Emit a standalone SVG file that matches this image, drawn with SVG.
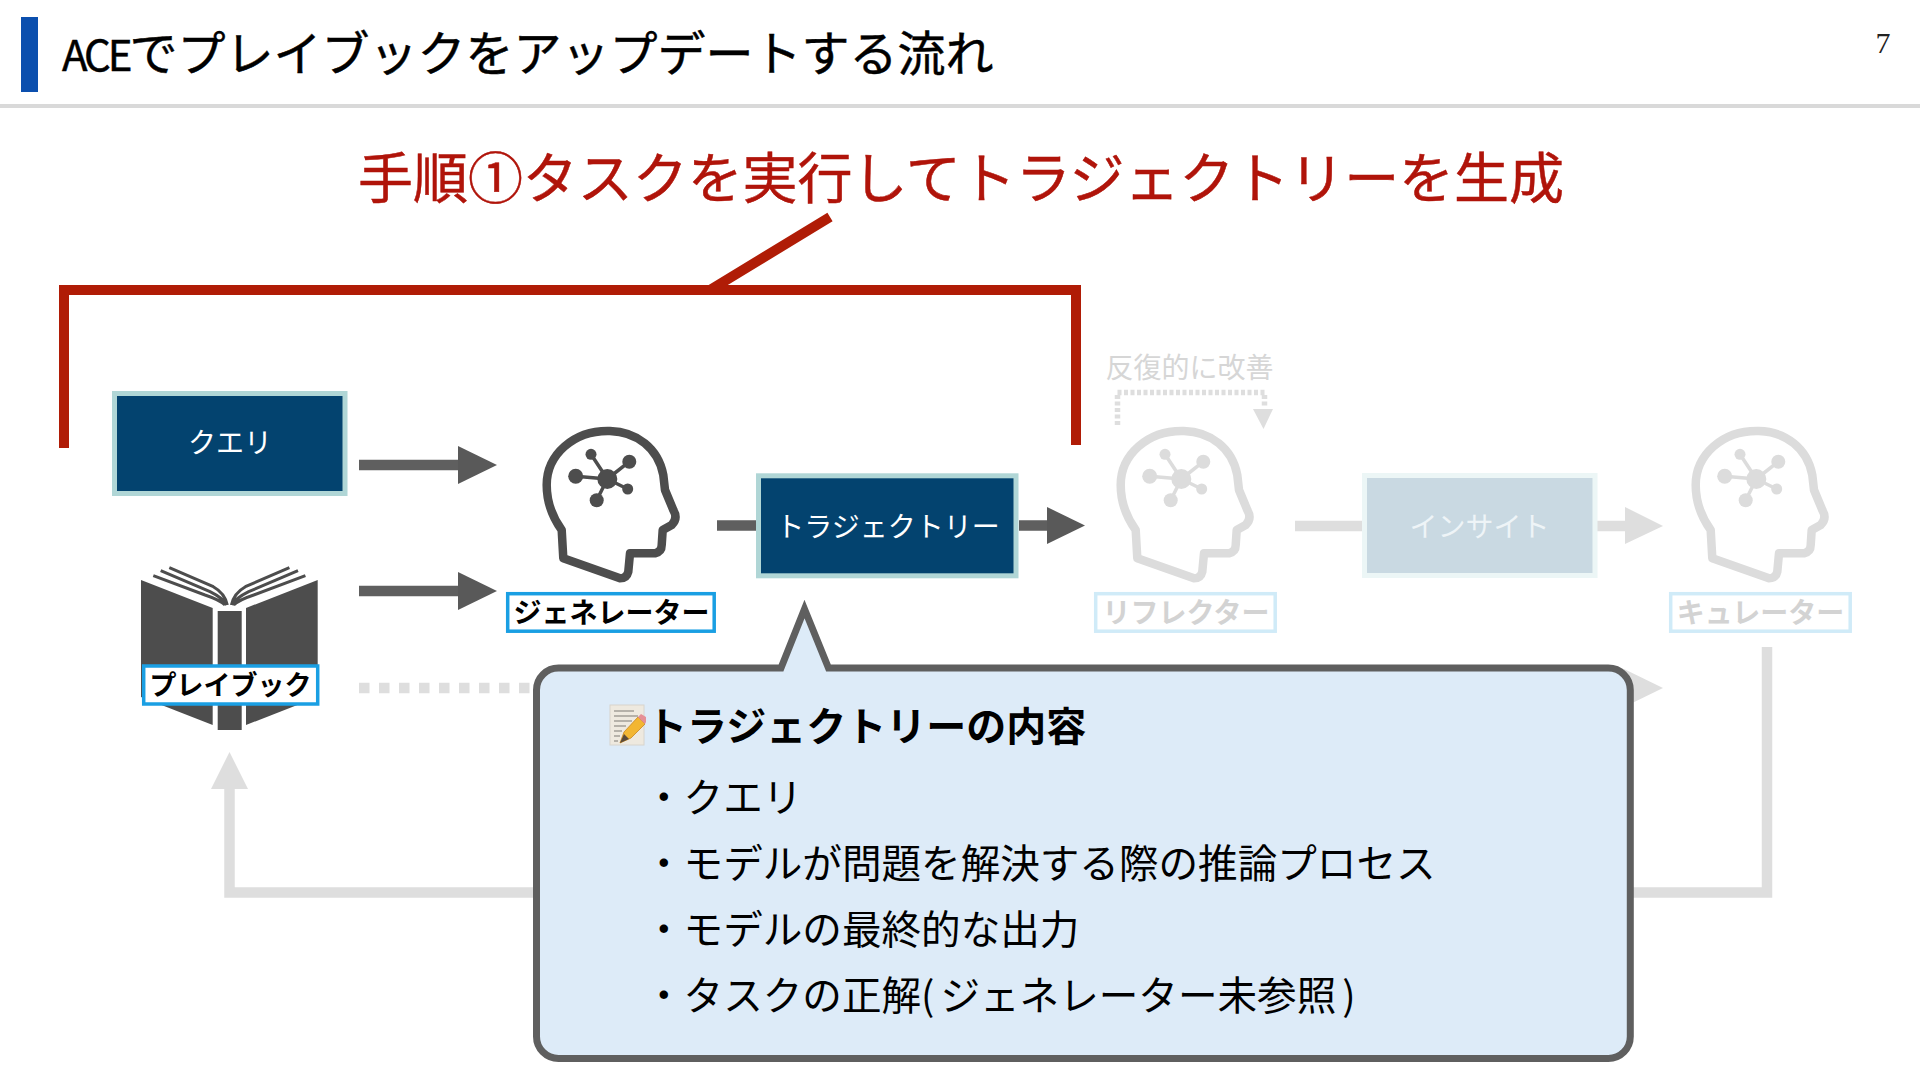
<svg xmlns="http://www.w3.org/2000/svg" width="1920" height="1080" viewBox="0 0 1920 1080">
<style>
text{font-family:"Noto Sans CJK JP","Noto Sans",sans-serif}
.box{stroke-width:5}
.dark{fill:#03436f;stroke:#b0d6d6}
.boxt{fill:#fff;font-size:28px;text-anchor:middle}
.lab{fill:#fff;stroke:#1a9fe3;stroke-width:3.5}
.labt{fill:#000;font-size:28px;font-weight:700;text-anchor:middle}
.flab{fill:#fff;stroke:#d0ebf8;stroke-width:3.5}
.flabt{fill:#d3d3d3;font-size:28px;font-weight:700;text-anchor:middle}
.ln{fill:none;stroke-width:10.5}
.g1{stroke:#5f5f5f}.f1{fill:#595959}
.g2{stroke:#dedede}.f2{fill:#dedede}
.body{font-size:39.6px;fill:#000}
</style>
<defs>
<g id="head">
<path fill="none" stroke="currentColor" stroke-width="8.5" stroke-linejoin="round" d="M33.3 143.3L90 163.3Q96.7 163.3 98.3 156.7L100 138.3L125 138.3Q131.7 136.7 131.7 130L132.7 115L141.7 110Q148.3 103.3 143.3 95L135 75L133.3 60C128.3 33.3 106.7 16.7 80 16C43.3 15 16.7 40 16.7 70C16.7 86.7 23.3 103.3 31.7 115Z"/>
<path fill="none" stroke="currentColor" stroke-width="3.5" d="M77.3 64L45.7 61.3M77.3 64L61 39.3M77.3 64L99.3 46.7M77.3 64L97.7 74M77.3 64L66.7 85.3"/>
<g fill="currentColor"><circle cx="77.3" cy="64" r="10"/><circle cx="45.7" cy="61.3" r="7.5"/><circle cx="61" cy="39.3" r="5.5"/><circle cx="99.3" cy="46.7" r="7"/><circle cx="97.7" cy="74" r="5.5"/><circle cx="66.7" cy="85.3" r="7"/></g>
</g>
</defs>
<rect width="1920" height="1080" fill="#fff"/>

<g id="header">
<rect x="21" y="17" width="17" height="75" fill="#0b4fae"/>
<rect x="0" y="104" width="1920" height="4" fill="#d9d9d9"/>
<text x="62" y="71" font-size="48" fill="#000" stroke="#000" stroke-width="0.5"><tspan font-size="42" letter-spacing="-3">ACE</tspan>でプレイブックをアップデートする流れ</text>
<text x="1883" y="53" font-size="30" fill="#222" text-anchor="middle" style="font-family:'Liberation Serif',serif">7</text>
</g>

<g id="step-title">
<text x="358" y="198" font-size="55" fill="#b0140a" stroke="#b0140a" stroke-width="0.5" textLength="1206" lengthAdjust="spacing">手順①タスクを実行してトラジェクトリーを生成</text>
<path d="M64 448V290H1076V445M710 290L830 217" fill="none" stroke="#b01c06" stroke-width="10"/>
</g>

<g id="connectors">
<path class="ln g1" d="M359 465H460"/><polygon class="f1" points="458,446 497,465 458,484"/>
<path class="ln g1" d="M359 591H460"/><polygon class="f1" points="458,572 497,591 458,610"/>
<path class="ln g1" d="M717 525.5H757M1019 525.5H1050"/><polygon class="f1" points="1047,507 1085,525.5 1047,544"/>
<path class="ln g2" d="M1295 526H1362M1597 526H1630"/><polygon class="f2" points="1625,507 1663,526 1625,544"/>
<path class="ln g2" d="M359 688H1630" stroke-dasharray="10.5 9.5"/><polygon class="f2" points="1624,669 1663,688 1624,707"/>
<path class="ln g2" d="M1767 647V892.5H229.5V785"/><polygon class="f2" points="211,789 229.5,752 248,789"/>
<path d="M1117.5 425V392.5H1264.5V406" fill="none" stroke="#dedede" stroke-width="5.5" stroke-dasharray="4 2.5"/><polygon class="f2" points="1253,409 1273,409 1263.5,429"/>
</g>

<g id="query"><rect class="box dark" x="114.5" y="393.5" width="230.5" height="100"/><text class="boxt" x="230" y="453">クエリ</text></g>

<g id="playbook">
<polygon fill="#4d4d4d" points="141,580 212.7,608 212.7,725 141,697"/>
<polygon fill="#4d4d4d" points="317.7,580 246,608 246,725 317.7,697"/>
<rect x="217.7" y="611" width="24" height="119" fill="#4d4d4d"/>
<g fill="none" stroke="#4d4d4d" stroke-width="3">
<path d="M153.3 575.7L205 595Q220 600 225 605M160.7 570.7L210 591.7Q223.3 598.3 226.7 605M169.3 567.7L213.3 586.7Q225 593.3 227.3 605"/>
<path d="M305.4 575.7L253.7 595Q238.7 600 233.7 605M298 570.7L248.7 591.7Q235.4 598.3 232 605M289.4 567.7L245.4 586.7Q233.7 593.3 231.4 605"/>
</g>
<rect class="lab" x="143.7" y="666" width="174" height="38"/><text class="labt" x="230.5" y="695" style="font-size:27px">プレイブック</text>
</g>

<g id="generator"><use href="#head" x="530" y="415" color="#4d4d4d"/><rect class="lab" x="507.7" y="593.7" width="206.5" height="37.5"/><text class="labt" x="611.5" y="623">ジェネレーター</text></g>

<g id="trajectory"><rect class="box dark" x="758.5" y="475.8" width="257.5" height="100"/><text class="boxt" x="888" y="536.5">トラジェクトリー</text></g>

<g id="reflector"><use href="#head" x="1104" y="415" color="#dcdcdc"/><rect class="flab" x="1095.7" y="593.7" width="179.5" height="37.5"/><text class="flabt" x="1186" y="623">リフレクター</text></g>

<g id="iterate"><text x="1189.5" y="378" font-size="28" fill="#d6d6d6" text-anchor="middle">反復的に改善</text></g>

<g id="insight"><rect class="box" x="1364.5" y="475.5" width="230.5" height="100" fill="#c9d9e2" stroke="#ecf6f6"/><text class="boxt" x="1479.5" y="536.5" style="fill:#eef4f7">インサイト</text></g>

<g id="curator"><use href="#head" x="1679" y="415" color="#dcdcdc"/><rect class="flab" x="1670.7" y="593.7" width="179.5" height="37.5"/><text class="flabt" x="1760.5" y="623">キュレーター</text></g>

<g id="callout">
<path d="M558.5 668H781L804.5 609L828.5 668H1608.3A22 22 0 0 1 1630.3 690V1036.5A22 22 0 0 1 1608.3 1058.5H558.5A22 22 0 0 1 536.5 1036.5V690A22 22 0 0 1 558.5 668Z" fill="#ddebf8" stroke="#5f5f5f" stroke-width="7"/>
<g id="memo-icon">
<rect x="610" y="705" width="34" height="40" fill="#eee9df" stroke="#d8d4cc"/>
<path d="M614 711H634M614 716H638M614 721H632M614 726H626M614 731H622M614 736H620M614 741H618" stroke="#7d7a74" stroke-width="1.2" fill="none"/>
<polygon points="620,743 624,732 638,717 645,724 631,738" fill="#f2b632" stroke="#c9871d" stroke-width="0.8"/>
<polygon points="638,717 641,714 646,717 646,722 645,724" fill="#e58f96"/>
<polygon points="620,743 624,734 629,739" fill="#5a4a3a"/>
</g>
<text x="647" y="741" font-size="40" font-weight="700" fill="#000">トラジェクトリーの内容</text>
<text class="body" x="644" y="812">・クエリ</text>
<text class="body" x="644" y="878">・モデルが問題を解決する際の推論プロセス</text>
<text class="body" x="644" y="944">・モデルの最終的な出力</text>
<text class="body" x="644" y="1010">・タスクの正解(<tspan dx="6">ジェネレーター未参照</tspan><tspan dx="6">)</tspan></text>
</g>
</svg>
